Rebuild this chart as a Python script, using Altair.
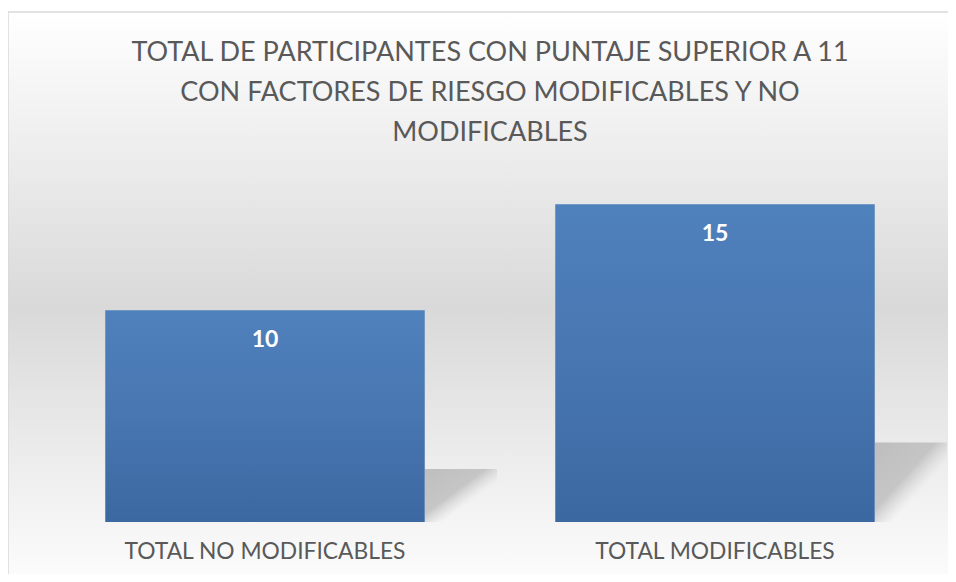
import altair as alt
import pandas as pd

categories = ["TOTAL NO MODIFICABLES", "TOTAL MODIFICABLES"]
values = [10, 15]
title_lines = [
    "TOTAL DE PARTICIPANTES CON PUNTAJE SUPERIOR A 11",
    "CON FACTORES DE RIESGO MODIFICABLES Y NO",
    "MODIFICABLES",
]

df = pd.DataFrame({"cat": categories, "val": values})

FONT = "Lato"
GRAY = "#595959"

bg = alt.Chart(alt.Data(values=[{"a": 1}])).mark_rect(
    color=alt.Gradient(
        gradient="linear",
        x1=0, y1=0, x2=0, y2=1,
        stops=[
            alt.GradientStop(color="#ffffff", offset=0),
            alt.GradientStop(color="#d9d9d9", offset=0.5),
            alt.GradientStop(color="#ffffff", offset=1),
        ],
    ),
    stroke="#d9d9d9",
    strokeWidth=1.5,
).encode(
    x=alt.value(-32), x2=alt.value(930),
    y=alt.value(-171), y2=alt.value(420),
)

x_enc = alt.X(
    "cat:N",
    sort=categories,
    scale=alt.Scale(paddingInner=0.29, paddingOuter=0.145),
    axis=alt.Axis(
        title=None, labelAngle=0, ticks=False, domain=False,
        labelFont=FONT, labelFontSize=22.8, labelColor=GRAY,
        labelPadding=18, labelLimit=500, zindex=2,
    ),
)
y_enc = alt.Y(
    "val:Q",
    scale=alt.Scale(domain=[0, 16], nice=False),
    axis=None,
)

shadow = alt.Chart(df).transform_calculate(
    sh="datum.val * 0.25"
).mark_bar(
    width=72,
    xOffset=196,
    color=alt.Gradient(
        gradient="linear",
        x1=0, y1=0, x2=1, y2=1,
        stops=[
            alt.GradientStop(color="rgba(185,185,185,0.9)", offset=0),
            alt.GradientStop(color="rgba(190,190,190,0.85)", offset=0.42),
            alt.GradientStop(color="rgba(210,210,210,0)", offset=0.62),
        ],
    ),
).encode(x=x_enc, y=alt.Y("sh:Q", scale=alt.Scale(domain=[0, 16], nice=False), axis=None))

bars = alt.Chart(df).mark_bar(
    color=alt.Gradient(
        gradient="linear",
        x1=0, y1=0, x2=0, y2=1,
        stops=[
            alt.GradientStop(color="#4f81bd", offset=0),
            alt.GradientStop(color="#4876b0", offset=0.5),
            alt.GradientStop(color="#3c68a1", offset=1),
        ],
    ),
).encode(x=x_enc, y=y_enc)

labels = alt.Chart(df).mark_text(
    font=FONT, fontSize=23, fontWeight="bold", color="white",
    baseline="middle", dy=30,
).encode(x=x_enc, y=y_enc, text="val:Q")

chart = alt.layer(bg, shadow, bars, labels).properties(
    width=900,
    height=339,
    autosize=alt.AutoSizeParams(type="none"),
    padding={"left": 32, "top": 175, "right": 8, "bottom": 52},
    title=alt.TitleParams(
        text=title_lines,
        font=FONT, fontSize=27, fontWeight="normal", color=GRAY,
        lineHeight=40, anchor="middle", offset=-136, zindex=2,
    ),
).configure_view(stroke=None).configure(background="white")

chart.save("out.html", embed_options={"renderer": "svg", "actions": False})
